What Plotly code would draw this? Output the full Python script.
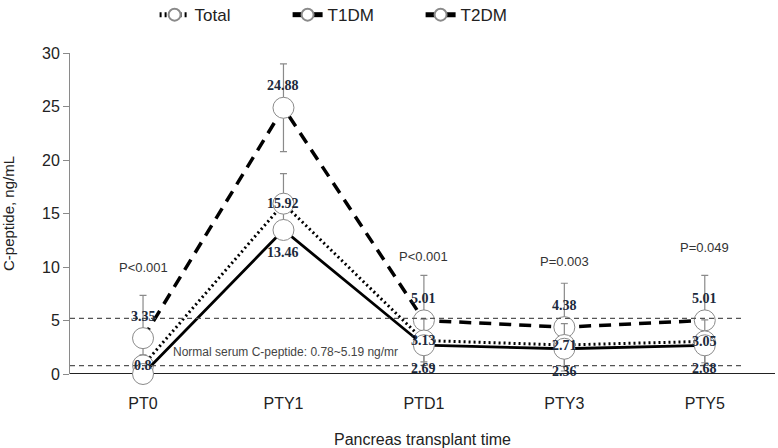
import plotly.graph_objects as go

categories = ["PT0", "PTY1", "PTD1", "PTY3", "PTY5"]
total = [0.8, 15.92, 3.13, 2.71, 3.05]
t1dm = [0.0, 13.46, 2.69, 2.36, 2.68]
t2dm = [3.35, 24.88, 5.01, 4.38, 5.01]
t2dm_err = [4.0, 4.1, 4.2, 4.1, 4.2]
total_err = [1.0, 2.8, 2.0, 2.0, 2.0]
p_values = ["P<0.001", "P=0.002", "P<0.001", "P=0.003", "P=0.049"]
p_label_y = [10.0, 30.1, 11.0, 10.5, 11.8]
normal_range = [0.78, 5.19]
y_ticks = [0, 5, 10, 15, 20, 25, 30]

xs = list(range(len(categories)))
GREY = "#8a8a8a"
LABEL_FONT = dict(family="Liberation Serif", size=14, color="#1c2a3c")

fig = go.Figure()

fig.add_trace(go.Scatter(
    x=xs, y=t2dm, name="T2DM", mode="lines+markers",
    line=dict(color="black", width=3.5, dash="12px,8px"),
    marker=dict(size=21, color="white", line=dict(color=GREY, width=1)),
    error_y=dict(type="data", array=t2dm_err, color=GREY, thickness=1.2, width=3.5),
    cliponaxis=False, legendrank=3,
))
fig.add_trace(go.Scatter(
    x=xs, y=total, name="Total", mode="lines+markers",
    line=dict(color="black", width=3, dash="2px,3px"),
    marker=dict(size=21, color="white", line=dict(color=GREY, width=1)),
    error_y=dict(type="data", array=total_err, color=GREY, thickness=1.2, width=3.5),
    cliponaxis=False, legendrank=1,
))
fig.add_trace(go.Scatter(
    x=xs, y=t1dm, name="T1DM", mode="lines+markers",
    line=dict(color="black", width=2.8),
    marker=dict(size=21, color="white", line=dict(color=GREY, width=1)),
    cliponaxis=False, legendrank=2,
))

# Normal range dashed lines
for v in normal_range:
    fig.add_shape(type="line", xref="paper", yref="y", x0=0, x1=0.955, y0=v, y1=v,
                  line=dict(color="#555555", width=1.2, dash="5px,4px"))

annotations = []
for i, x in enumerate(xs):
    annotations.append(dict(x=x, y=t2dm[i], text=f"<b>{t2dm[i]:g}</b>", showarrow=False,
                            yshift=22, font=LABEL_FONT))
    annotations.append(dict(x=x, y=total[i], text=f"<b>{total[i]:g}</b>", showarrow=False,
                            yshift=0, font=LABEL_FONT))
    if t1dm[i] > 0:
        annotations.append(dict(x=x, y=t1dm[i], text=f"<b>{t1dm[i]:g}</b>", showarrow=False,
                                yshift=-23, font=LABEL_FONT))
    annotations.append(dict(x=x, y=p_label_y[i], text=p_values[i], showarrow=False,
                            font=dict(family="Liberation Sans", size=13, color="#333333")))

annotations.append(dict(x=0.2, y=normal_range[0], text="Normal serum C-peptide: 0.78~5.19 ng/mr",
                        showarrow=False, xanchor="left", yshift=14,
                        font=dict(family="Liberation Sans", size=12, color="#444444")))
fig.update_layout(annotations=annotations)

fig.update_layout(
    width=778, height=448,
    margin=dict(l=70, r=3, t=53, b=74, autoexpand=False),
    plot_bgcolor="white", paper_bgcolor="white",
    font=dict(family="Liberation Sans", size=16, color="#222222"),
    showlegend=True,
    legend=dict(orientation="h", x=0.12, xanchor="left", y=1.118, yanchor="middle",
                traceorder="normal", entrywidth=88, font=dict(size=17),
                itemsizing="constant"),
    xaxis=dict(range=[-0.52, 4.5], tickvals=xs, ticktext=categories, showgrid=False,
               zeroline=False, showline=False, ticks="", automargin=False,
               ticklabelstandoff=18,
               title=dict(text="Pancreas transplant time", font=dict(size=16), standoff=28)),
    yaxis=dict(range=[0, 30], tickvals=y_ticks, showgrid=False, zeroline=False,
               showline=True, linecolor=GREY, linewidth=1, ticks="outside",
               tickcolor=GREY, ticklen=6, automargin=False,
               title=dict(text="C-peptide, ng/mL", font=dict(size=15), standoff=28)),
)

# x axis baseline
fig.add_shape(type="line", xref="paper", yref="y", x0=0, x1=1, y0=0, y1=0,
              line=dict(color="#222222", width=2), layer="below")

fig.write_html("out.html", config={"displayModeBar": False},
               post_script="document.body.style.margin='0';document.body.style.padding='0';")
